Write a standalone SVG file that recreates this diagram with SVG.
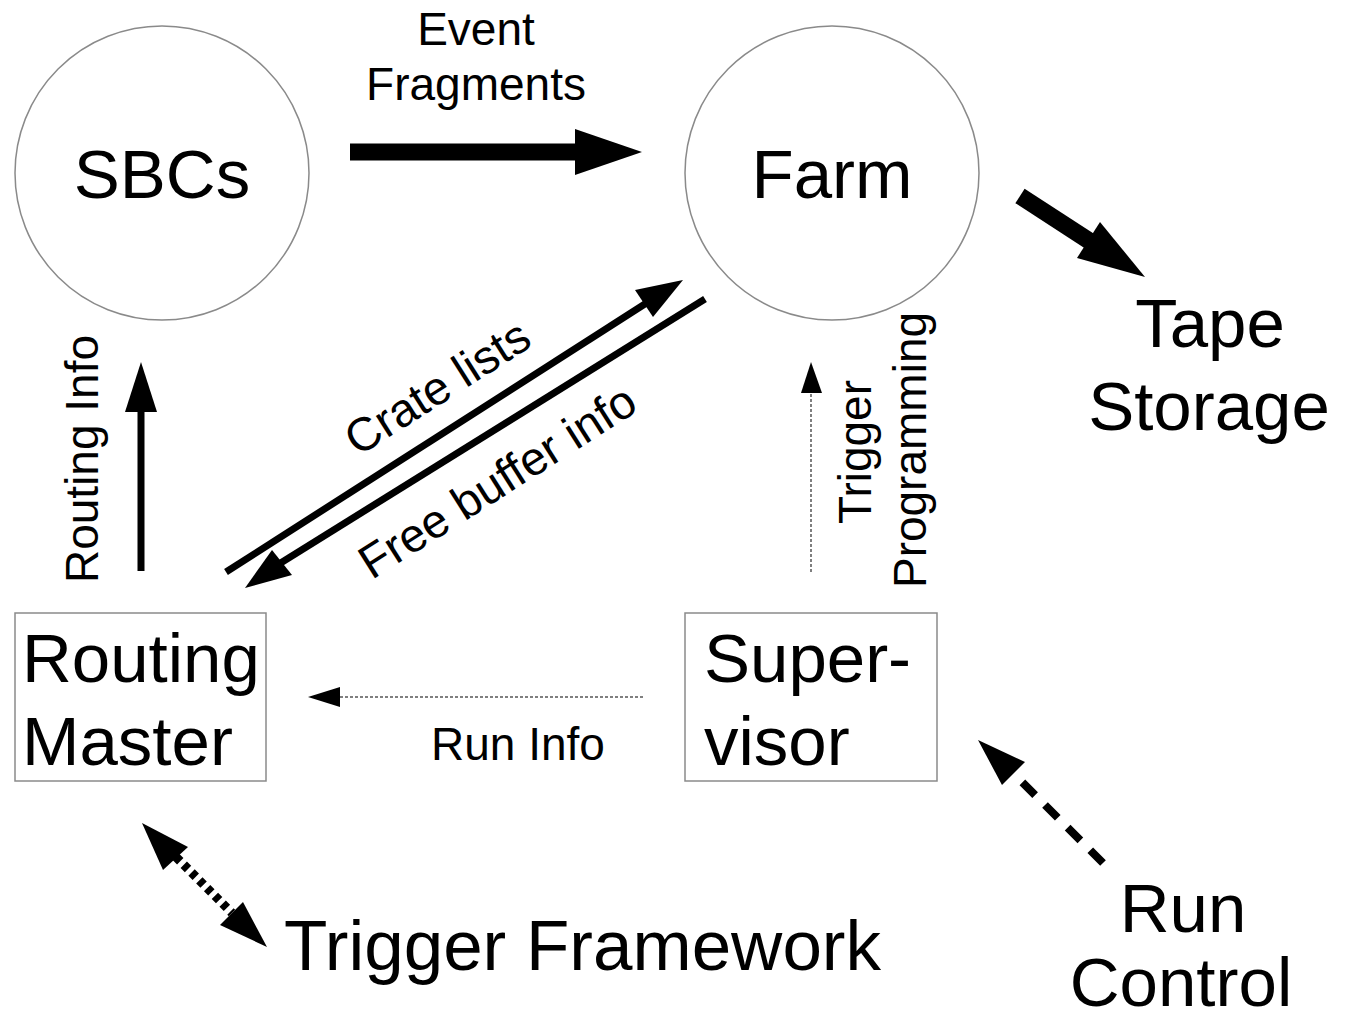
<svg xmlns="http://www.w3.org/2000/svg" width="1350" height="1020" viewBox="0 0 1350 1020">
  <style>
    .big { font-family: "Liberation Sans", Arial, sans-serif; font-size: 69px; fill: #000; }
    .wide { font-size: 71px; }
    .lbl { font-family: "Liberation Sans", Arial, sans-serif; font-size: 46px; fill: #000; }
    .rot { font-family: "Liberation Sans", Arial, sans-serif; font-size: 47px; fill: #000; }
    .node { fill: #fff; stroke: #8a8a8a; stroke-width: 1.5; }
    .thick { stroke: #000; stroke-width: 17; fill: none; }
    .mid { stroke: #000; stroke-width: 7; fill: none; }
    .dot { stroke: #555; stroke-width: 1.5; stroke-dasharray: 3 2; fill: none; }
    .head { fill: #000; stroke: none; }
  </style>

  <rect width="1350" height="1020" fill="#fff"/>

  <!-- processing nodes -->
  <g id="sbcs">
    <circle class="node" cx="162" cy="173" r="147"/>
    <text class="big" x="162" y="198" text-anchor="middle">SBCs</text>
  </g>
  <g id="farm">
    <circle class="node" cx="832" cy="173" r="147"/>
    <text class="big" x="832" y="198" text-anchor="middle">Farm</text>
  </g>
  <g id="routing-master">
    <rect class="node" x="15" y="613" width="251" height="168"/>
    <text class="big" x="22" y="682">Routing</text>
    <text class="big" x="22" y="765">Master</text>
  </g>
  <g id="supervisor">
    <rect class="node" x="685" y="613" width="252" height="168"/>
    <text class="big" x="704" y="682">Super-</text>
    <text class="big" x="704" y="765">visor</text>
  </g>
  <g id="tape-storage">
    <text class="big" x="1210" y="347" text-anchor="middle">Tape</text>
    <text class="big" x="1209" y="430" text-anchor="middle">Storage</text>
  </g>
  <g id="trigger-framework">
    <text class="big wide" x="284" y="970">Trigger Framework</text>
  </g>
  <g id="run-control">
    <text class="big" x="1183" y="932" text-anchor="middle">Run</text>
    <text class="big" x="1181" y="1006" text-anchor="middle">Control</text>
  </g>

  <!-- data and control flows -->
  <g id="connectors">
    <!-- event fragments: SBCs to Farm -->
    <line class="thick" x1="350" y1="152" x2="577" y2="152"/>
    <polygon class="head" points="575,129 642,152 575,175"/>
    <text class="lbl" x="476" y="45" text-anchor="middle">Event</text>
    <text class="lbl" x="476" y="100" text-anchor="middle">Fragments</text>

    <!-- Farm to tape -->
    <line class="thick" x1="1020" y1="196" x2="1094" y2="244"/>
    <polygon class="head" points="1100,222 1145,277 1077,258"/>

    <!-- routing info: Routing Master to SBCs -->
    <line class="mid" x1="141" y1="571" x2="141" y2="408"/>
    <polygon class="head" points="125,412 141,362 157,412"/>
    <text class="lbl" transform="translate(98,459) rotate(-90)" text-anchor="middle">Routing Info</text>

    <!-- crate lists: Routing Master to Farm -->
    <line class="mid" x1="226" y1="572" x2="648" y2="302"/>
    <polygon class="head" points="635,290 683,280 653,317"/>
    <text class="rot" transform="translate(446,401) rotate(-32.4)" text-anchor="middle">Crate lists</text>

    <!-- free buffer info: Farm to Routing Master -->
    <line class="mid" x1="705" y1="299" x2="279" y2="564"/>
    <polygon class="head" points="272,550 245,588 292,575"/>
    <text class="rot" transform="translate(506,495) rotate(-32.4)" text-anchor="middle">Free buffer info</text>

    <!-- trigger programming: Supervisor to Farm -->
    <line class="dot" x1="811" y1="572" x2="811" y2="393"/>
    <polygon class="head" points="801,393 811,362 822,393"/>
    <text class="lbl" transform="translate(871,452) rotate(-90)" text-anchor="middle">Trigger</text>
    <text class="lbl" transform="translate(926,450) rotate(-90)" text-anchor="middle">Programming</text>

    <!-- run info: Supervisor to Routing Master -->
    <line class="dot" x1="643" y1="697" x2="340" y2="697"/>
    <polygon class="head" points="340,687 308,697 340,707"/>
    <text class="lbl" x="518" y="760" text-anchor="middle">Run Info</text>

    <!-- Routing Master and Trigger Framework, both ways -->
    <line x1="176" y1="857" x2="232" y2="913" stroke="#000" stroke-width="9" stroke-dasharray="6 5"/>
    <polygon class="head" points="142,823 188,847 163,870"/>
    <polygon class="head" points="267,947 243,902 220,925"/>

    <!-- Run Control to Supervisor -->
    <line x1="1103" y1="863" x2="1012" y2="772" stroke="#000" stroke-width="8" stroke-dasharray="18 14"/>
    <polygon class="head" points="978,740 1025,762 1002,785"/>
  </g>
</svg>
